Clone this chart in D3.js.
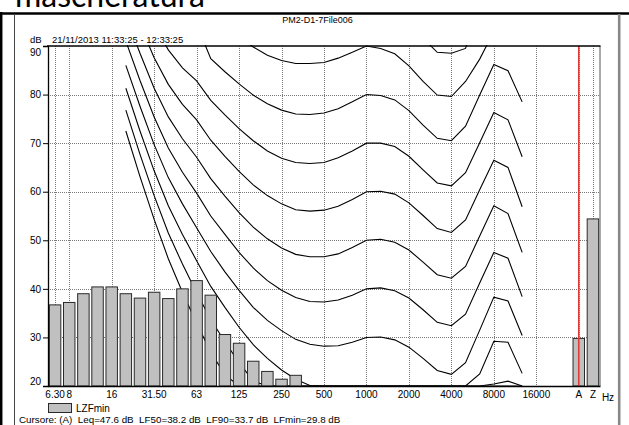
<!DOCTYPE html>
<html>
<head>
<meta charset="utf-8">
<script src="https://cdn.jsdelivr.net/npm/d3@7"></script>
<style>
  html, body { margin: 0; padding: 0; background: #fff; }
  svg { display: block; }
  text { font-family: "Liberation Sans", Arial, sans-serif; fill: #000; }
</style>
</head>
<body>
<svg id="chart" width="629" height="425"></svg>
<script>
// 1/3-octave bands shown on the x axis, then a spare slot and the A / Z overall values
const bands = ["6.3","8","10","12.5","16","20","25","31.5","40","50","63","80","100","125","160",
  "200","250","315","400","500","630","800","1000","1250","1600","2000","2500","3150","4000",
  "5000","6300","8000","10000","12500","16000","20000"];
const slots = bands.concat(["_", "A", "Z"]);

// labelled grid positions on the frequency axis
const tickKeys   = ["6.3","8","16","31.5","63","125","250","500","1000","2000","4000","8000","16000","A","Z"];
const tickLabels = ["6.30","8","16","31.50","63","125","250","500","1000","2000","4000","8000","16000","A","Z"];
const yTicks = [20, 30, 40, 50, 60, 70, 80, 90];

// LZFmin spectrum (dB), null where the level is below the plotted range
const lzfmin = [36.7, 37.2, 39.0, 40.4, 40.4, 39.0, 38.1, 39.3, 38.0, 40.0, 41.7, 38.7, 30.6, 28.8,
  25.1, 23.0, 21.4, 22.2, null, null, null, null, null, null, null, null, null, null, null,
  null, null, null, null, null, null, null];
const overallKeys = ["A", "Z"];
const overallValues = [29.8, 54.4];

// cursor readout
const cursorBand = "A";
const cursorStats = [["Leq", 47.6], ["LF50", 38.2], ["LF90", 33.7], ["LFmin", 29.8]];

// equal-loudness contours (dB) at the bands 20 Hz ... 12.5 kHz
const contourBands = ["20","25","31.5","40","50","63","80","100","125","160","200","250","315",
  "400","500","630","800","1000","1250","1600","2000","2500","3150","4000","5000","6300","8000",
  "10000","12500"];
const phon0   = [72.5, 63.1, 54.3, 46.2, 39.3, 32.9, 27.0, 22.3, 17.8, 13.8, 10.8, 8.1, 5.7, 3.9, 2.5, 1.3, 0.5, 0.0, -0.7, -1.9, -3.5, -5.7, -8.1, -8.3, -5.4, 2.5, 11.6, 13.1, 8.8];
const phon10  = [76.8, 67.7, 59.2, 51.5, 45.1, 39.2, 33.7, 29.1, 24.8, 21.0, 18.1, 15.6, 13.4, 11.9, 10.9, 10.1, 9.9, 10.0, 9.7, 8.7, 7.2, 5.0, 2.5, 2.2, 4.8, 12.3, 20.4, 21.0, 15.5];
const phon20  = [81.3, 72.5, 64.3, 57.1, 51.2, 45.8, 40.5, 36.2, 32.1, 28.5, 25.7, 23.3, 21.4, 20.1, 19.4, 19.1, 19.4, 20.0, 19.9, 19.2, 17.7, 15.4, 13.0, 12.4, 14.9, 22.5, 29.2, 29.0, 22.6];
const phon30  = [86.0, 77.6, 69.7, 62.9, 57.5, 52.6, 47.7, 43.5, 39.7, 36.2, 33.5, 31.4, 29.6, 28.6, 28.2, 28.3, 29.0, 30.0, 30.1, 29.5, 28.0, 25.7, 23.2, 22.4, 24.8, 31.5, 38.3, 37.5, 30.4];
const phon40  = [91.0, 82.9, 75.4, 69.0, 64.0, 59.7, 55.0, 51.2, 47.5, 44.3, 41.7, 39.7, 38.2, 37.4, 37.3, 37.7, 38.7, 40.0, 40.2, 39.6, 38.1, 35.7, 33.1, 32.4, 34.8, 41.2, 47.5, 46.3, 38.4];
const phon50  = [96.2, 88.5, 81.3, 75.4, 70.9, 67.1, 62.7, 59.1, 55.7, 52.7, 50.3, 48.4, 47.1, 46.6, 46.6, 47.2, 48.5, 50.0, 50.2, 49.6, 48.0, 45.5, 42.9, 42.2, 44.6, 50.9, 57.1, 55.5, 47.5];
const phon60  = [101.7, 94.4, 87.6, 82.1, 78.0, 74.8, 70.6, 67.3, 64.2, 61.4, 59.2, 57.5, 56.3, 56.0, 56.2, 57.0, 58.4, 60.0, 60.1, 59.5, 57.7, 55.1, 52.4, 51.6, 54.2, 60.4, 66.5, 65.0, 56.9];
const phon70  = [107.6, 100.7, 94.3, 89.2, 85.5, 82.8, 78.8, 75.8, 73.0, 70.5, 68.4, 66.9, 66.0, 65.8, 66.0, 67.0, 68.4, 70.0, 70.0, 69.3, 67.3, 64.5, 61.8, 61.2, 63.9, 70.1, 76.3, 74.8, 67.2];
const phon80  = [113.7, 110.0, 106.0, 103.0, 99.0, 94.5, 87.4, 84.7, 82.2, 79.9, 78.1, 76.8, 76.0, 75.9, 76.2, 77.1, 78.5, 80.0, 79.8, 78.9, 76.7, 73.7, 71.0, 70.5, 73.5, 79.9, 86.2, 84.9, 78.5];
const phon90  = [120.3, 114.4, 108.7, 104.4, 101.5, 99.8, 96.3, 94.0, 91.8, 89.8, 88.1, 87.0, 86.4, 86.4, 86.6, 87.5, 88.7, 90.0, 89.5, 88.4, 85.9, 82.7, 79.9, 79.6, 82.7, 87.3, 93.0, 92.5, 91.0];
const phon100 = [127.2, 121.9, 116.6, 112.6, 110.1, 108.9, 105.6, 103.6, 101.8, 100.1, 98.7, 97.8, 97.2, 97.3, 97.4, 98.1, 99.0, 100.0, 99.1, 97.7, 94.9, 91.6, 88.7, 88.5, 89.5, 98.5, 106.0, 105.0, 103.0];
const contours = [phon0, phon10, phon20, phon30, phon40, phon50, phon60, phon70, phon80, phon90, phon100];

const svg = d3.select("#chart");
const W = 629, H = 425;
const plot = { left: 48, right: 600, top: 46, bottom: 386 };

svg.append("rect").attr("width", W).attr("height", H).attr("fill", "#fff");

// page framing around the chart picture
const frame = svg.append("g");
frame.append("text").attr("x", 15).attr("y", 6.5)
  .style("font-family", "Lato, 'Open Sans', sans-serif").style("font-size", "32px")
  .text("mascheratura");
frame.append("line").attr("x1", 0).attr("x2", W).attr("y1", 13.5).attr("y2", 13.5)
  .attr("stroke", "#000").attr("stroke-width", 2.5);
frame.append("line").attr("x1", 1.2).attr("x2", 1.2).attr("y1", 12).attr("y2", H)
  .attr("stroke", "#000").attr("stroke-width", 2.5);
frame.append("line").attr("x1", 14.5).attr("x2", 14.5).attr("y1", 14).attr("y2", H)
  .attr("stroke", "#444").attr("stroke-width", 1);
frame.append("line").attr("x1", 619.2).attr("x2", 619.2).attr("y1", 14).attr("y2", H)
  .attr("stroke", "#888").attr("stroke-width", 2.6);

// scales
const x = d3.scaleBand().domain(slots).range([plot.left, plot.right])
  .paddingInner(0.19).paddingOuter(0.095);
const xc = k => x(k) + x.bandwidth() / 2;
const y = d3.scaleLinear().domain([20, 90]).range([plot.bottom, plot.top]);

// titles
svg.append("text").attr("x", 317.5).attr("y", 23).attr("text-anchor", "middle")
  .style("font-size", "9px").text("PM2-D1-7File006");
svg.append("text").attr("x", 30).attr("y", 43).style("font-size", "9.5px").text("dB");
svg.append("text").attr("x", 52).attr("y", 43).style("font-size", "9.5px")
  .text("21/11/2013 11:33:25 - 12:33:25");

// grid
const grid = svg.append("g").attr("stroke", "#7a7a7a").attr("stroke-width", 1)
  .attr("stroke-dasharray", "1,1").attr("fill", "none");
yTicks.filter(v => v > 20 && v < 90).forEach(v => {
  grid.append("line").attr("x1", plot.left).attr("x2", plot.right)
    .attr("y1", Math.round(y(v)) + 0.5).attr("y2", Math.round(y(v)) + 0.5);
});
tickKeys.forEach(k => {
  const px = Math.round(xc(k)) + 0.5;
  grid.append("line").attr("x1", px).attr("x2", px).attr("y1", plot.top).attr("y2", plot.bottom);
});

// contours (clipped to the plot; levels under the floor run along the axis)
svg.append("clipPath").attr("id", "plotClip").append("rect")
  .attr("x", plot.left).attr("y", plot.top - 1)
  .attr("width", plot.right - plot.left).attr("height", plot.bottom - plot.top + 2);
const line = d3.line()
  .x((d, i) => xc(contourBands[i]))
  .y(d => y(Math.max(d, 20)));
svg.append("g").attr("clip-path", "url(#plotClip)")
  .selectAll("path").data(contours).join("path")
  .attr("d", line).attr("fill", "none").attr("stroke", "#000").attr("stroke-width", 1.1);

// bars
const barData = bands.map((b, i) => ({ k: b, v: lzfmin[i] }))
  .concat(overallKeys.map((k, i) => ({ k, v: overallValues[i] })))
  .filter(d => d.v !== null);
svg.append("g").selectAll("rect").data(barData).join("rect")
  .attr("x", d => x(d.k)).attr("y", d => y(d.v))
  .attr("width", x.bandwidth()).attr("height", d => y(20) - y(d.v))
  .attr("fill", "#c0c0c0").attr("stroke", "#2a2a2a").attr("stroke-width", 1);

// cursor
svg.append("line").attr("x1", xc(cursorBand)).attr("x2", xc(cursorBand))
  .attr("y1", plot.top).attr("y2", plot.bottom)
  .attr("stroke", "#e23a3a").attr("stroke-width", 1.6);

// plot border
svg.append("line").attr("x1", plot.right).attr("x2", plot.right).attr("y1", plot.top).attr("y2", plot.bottom)
  .attr("stroke", "#555").attr("stroke-width", 1);
svg.append("line").attr("x1", plot.left - 1).attr("x2", plot.right + 0.5).attr("y1", plot.top).attr("y2", plot.top)
  .attr("stroke", "#000").attr("stroke-width", 1.6);

// y axis
const yAxis = svg.append("g").attr("transform", `translate(${plot.left},0)`)
  .call(d3.axisLeft(y).tickValues(yTicks).tickSize(5).tickPadding(2).tickFormat(d3.format("d")));
yAxis.select(".domain").attr("stroke", "#000").attr("stroke-width", 1.3);
yAxis.selectAll("text").style("font-size", "10px").style("font-family", "'Liberation Sans', Arial, sans-serif")
  .attr("dy", d => d === 90 ? "0.95em" : d === 20 ? "-0.15em" : "0.32em");
yAxis.selectAll(".tick").filter(d => d === 90 || d === 20).select("line").remove();

// x axis
const xAxis = svg.append("g").attr("transform", `translate(0,${plot.bottom})`)
  .call(d3.axisBottom(x).tickValues(tickKeys).tickSize(0).tickPadding(5)
    .tickFormat(k => tickLabels[tickKeys.indexOf(k)]));
xAxis.select(".domain").attr("stroke", "#000").attr("stroke-width", 1.3);
xAxis.selectAll("text").style("font-size", "10px").style("font-family", "'Liberation Sans', Arial, sans-serif");
svg.append("text").attr("x", 608).attr("y", plot.bottom + 14.5).attr("text-anchor", "middle")
  .style("font-size", "10px").text("Hz");

// legend
svg.append("rect").attr("x", 48.5).attr("y", 403.5).attr("width", 23).attr("height", 9)
  .attr("fill", "#c0c0c0").attr("stroke", "#2a2a2a");
svg.append("text").attr("x", 76).attr("y", 412).style("font-size", "10px").text("LZFmin");

// cursor readout
svg.append("text").attr("x", 19).attr("y", 423).style("font-size", "9.8px").style("white-space", "pre")
  .text(`Cursore: (${cursorBand})  ` + cursorStats.map(s => `${s[0]}=${s[1].toFixed(1)} dB`).join("  "));
</script>
</body>
</html>
